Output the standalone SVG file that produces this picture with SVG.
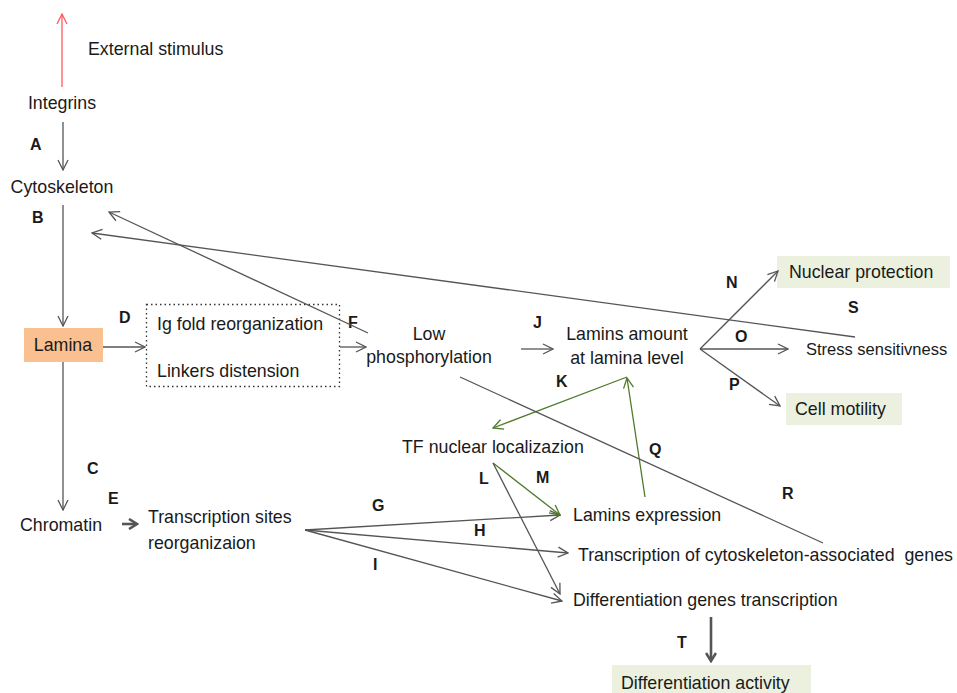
<svg xmlns="http://www.w3.org/2000/svg" width="957" height="693" viewBox="0 0 957 693">
<defs>
<marker id="ah" viewBox="0 0 12 12" refX="11" refY="6" markerWidth="12" markerHeight="12" markerUnits="userSpaceOnUse" orient="auto"><path d="M1,1 L11,6 L1,11" fill="none" stroke="#555" stroke-width="1.3"/></marker>
<marker id="ahg" viewBox="0 0 12 12" refX="11" refY="6" markerWidth="12" markerHeight="12" markerUnits="userSpaceOnUse" orient="auto"><path d="M1,1 L11,6 L1,11" fill="none" stroke="#4f7a2a" stroke-width="1.3"/></marker>
<marker id="ahr" viewBox="0 0 12 12" refX="11" refY="6" markerWidth="12" markerHeight="12" markerUnits="userSpaceOnUse" orient="auto"><path d="M1,1 L11,6 L1,11" fill="none" stroke="#ff5a5a" stroke-width="1.3"/></marker>
<marker id="ahb" viewBox="0 0 12 12" refX="10" refY="6" markerWidth="12" markerHeight="12" markerUnits="userSpaceOnUse" orient="auto"><path d="M2,1 L10,6 L2,11" fill="none" stroke="#555" stroke-width="2.6"/></marker>
</defs>
<style>
text{font-family:"Liberation Sans",Arial,sans-serif;font-size:17.8px;fill:#1a1a1a}
.lb{font-weight:bold;font-size:16px}
.sm{font-size:16.5px}
.c{fill:none;stroke:#555;stroke-width:1.3}
.g{fill:none;stroke:#4f7a2a;stroke-width:1.3}
.box{fill:#ebf1de}
</style>
<g id="labels">
<text class="lb" x="30" y="150">A</text>
<text class="lb" x="32" y="223">B</text>
<text class="lb" x="87" y="474">C</text>
<text class="lb" x="119" y="323">D</text>
<text class="lb" x="108" y="504">E</text>
<text class="lb" x="348" y="328">F</text>
<text class="lb" x="372" y="511">G</text>
<text class="lb" x="474" y="536">H</text>
<text class="lb" x="373" y="570">I</text>
<text class="lb" x="533" y="328">J</text>
<text class="lb" x="556" y="387">K</text>
<text class="lb" x="479" y="484">L</text>
<text class="lb" x="536" y="483">M</text>
<text class="lb" x="726" y="288">N</text>
<text class="lb" x="735" y="342">O</text>
<text class="lb" x="729" y="390">P</text>
<text class="lb" x="649" y="455">Q</text>
<text class="lb" x="782" y="499">R</text>
<text class="lb" x="848" y="313">S</text>
<text class="lb" x="677" y="648">T</text>
</g>
<g id="external"><text x="88" y="55">External stimulus</text></g>
<g id="integrins"><text x="62" y="109" text-anchor="middle">Integrins</text></g>
<g id="cytoskeleton"><text x="62" y="193" text-anchor="middle">Cytoskeleton</text></g>
<g id="lamina"><rect x="24" y="328" width="79" height="34" fill="#fac090"/><text x="63" y="351" text-anchor="middle">Lamina</text></g>
<g id="igfold"><rect x="146.5" y="304.5" width="193" height="82" fill="none" stroke="#333" stroke-width="1.3" stroke-dasharray="1.5,3"/><text x="157" y="330">Ig fold reorganization</text><text x="157" y="377">Linkers distension</text></g>
<g id="lowphos"><text x="429" y="340" text-anchor="middle">Low</text><text x="429" y="363" text-anchor="middle">phosphorylation</text></g>
<g id="laminsamount"><text x="627" y="340" text-anchor="middle">Lamins amount</text><text x="627" y="364" text-anchor="middle">at lamina level</text></g>
<g id="nuclearprotection"><rect class="box" x="777" y="256" width="173" height="32"/><text x="789" y="278">Nuclear protection</text></g>
<g id="stress"><text class="sm" x="806" y="355">Stress sensitivness</text></g>
<g id="cellmotility"><rect class="box" x="786" y="393" width="116" height="32"/><text x="795" y="415">Cell motility</text></g>
<g id="tf"><text x="402" y="453">TF nuclear localizazion</text></g>
<g id="chromatin"><text x="20" y="531">Chromatin</text></g>
<g id="tsr"><text x="148" y="523">Transcription sites</text><text x="148" y="549">reorganizaion</text></g>
<g id="laminsexpr"><text x="573" y="521">Lamins expression</text></g>
<g id="tcag"><text x="578" y="561" xml:space="preserve">Transcription of cytoskeleton-associated  genes</text></g>
<g id="dgt"><text x="573" y="606">Differentiation genes transcription</text></g>
<g id="da"><rect class="box" x="612" y="665" width="199" height="30"/><text x="621" y="689">Differentiation activity</text></g>
<g id="connectors">
<line x1="62" y1="87" x2="62" y2="14" stroke="#ff5a5a" stroke-width="1.3" marker-end="url(#ahr)"/>
<line class="c" x1="63" y1="122" x2="63" y2="170" marker-end="url(#ah)"/>
<line class="c" x1="63" y1="205" x2="63" y2="326" marker-end="url(#ah)"/>
<line class="c" x1="103" y1="347" x2="145" y2="347" marker-end="url(#ah)"/>
<line class="c" x1="340" y1="347" x2="366" y2="347" marker-end="url(#ah)"/>
<line class="c" x1="368" y1="333" x2="109" y2="212" marker-end="url(#ah)"/>
<line class="c" x1="855" y1="337" x2="92" y2="233" marker-end="url(#ah)"/>
<line class="c" x1="63" y1="362" x2="63" y2="510" marker-end="url(#ah)"/>
<line x1="122" y1="524" x2="137" y2="524" stroke="#555" stroke-width="2.6" marker-end="url(#ahb)"/>
<line class="c" x1="305" y1="530" x2="560" y2="515" marker-end="url(#ah)"/>
<line class="c" x1="305" y1="530" x2="568" y2="553" marker-end="url(#ah)"/>
<line class="c" x1="305" y1="530" x2="562" y2="601" marker-end="url(#ah)"/>
<line class="c" x1="521" y1="349" x2="553" y2="349" marker-end="url(#ah)"/>
<line class="c" x1="700" y1="349" x2="778" y2="271" marker-end="url(#ah)"/>
<line class="c" x1="700" y1="349" x2="788" y2="349" marker-end="url(#ah)"/>
<line class="c" x1="700" y1="349" x2="780" y2="406" marker-end="url(#ah)"/>
<line class="g" x1="627" y1="377" x2="493" y2="428" marker-end="url(#ahg)"/>
<line class="g" x1="645" y1="497" x2="627" y2="378" marker-end="url(#ahg)"/>
<line class="c" x1="460" y1="377" x2="823" y2="543"/>
<line class="g" x1="493" y1="463" x2="560" y2="515" marker-end="url(#ahg)"/>
<line class="c" x1="493" y1="463" x2="560" y2="594" marker-end="url(#ah)"/>
<line x1="711" y1="617" x2="711" y2="661" stroke="#555" stroke-width="2.6" marker-end="url(#ahb)"/>
</g>
</svg>
